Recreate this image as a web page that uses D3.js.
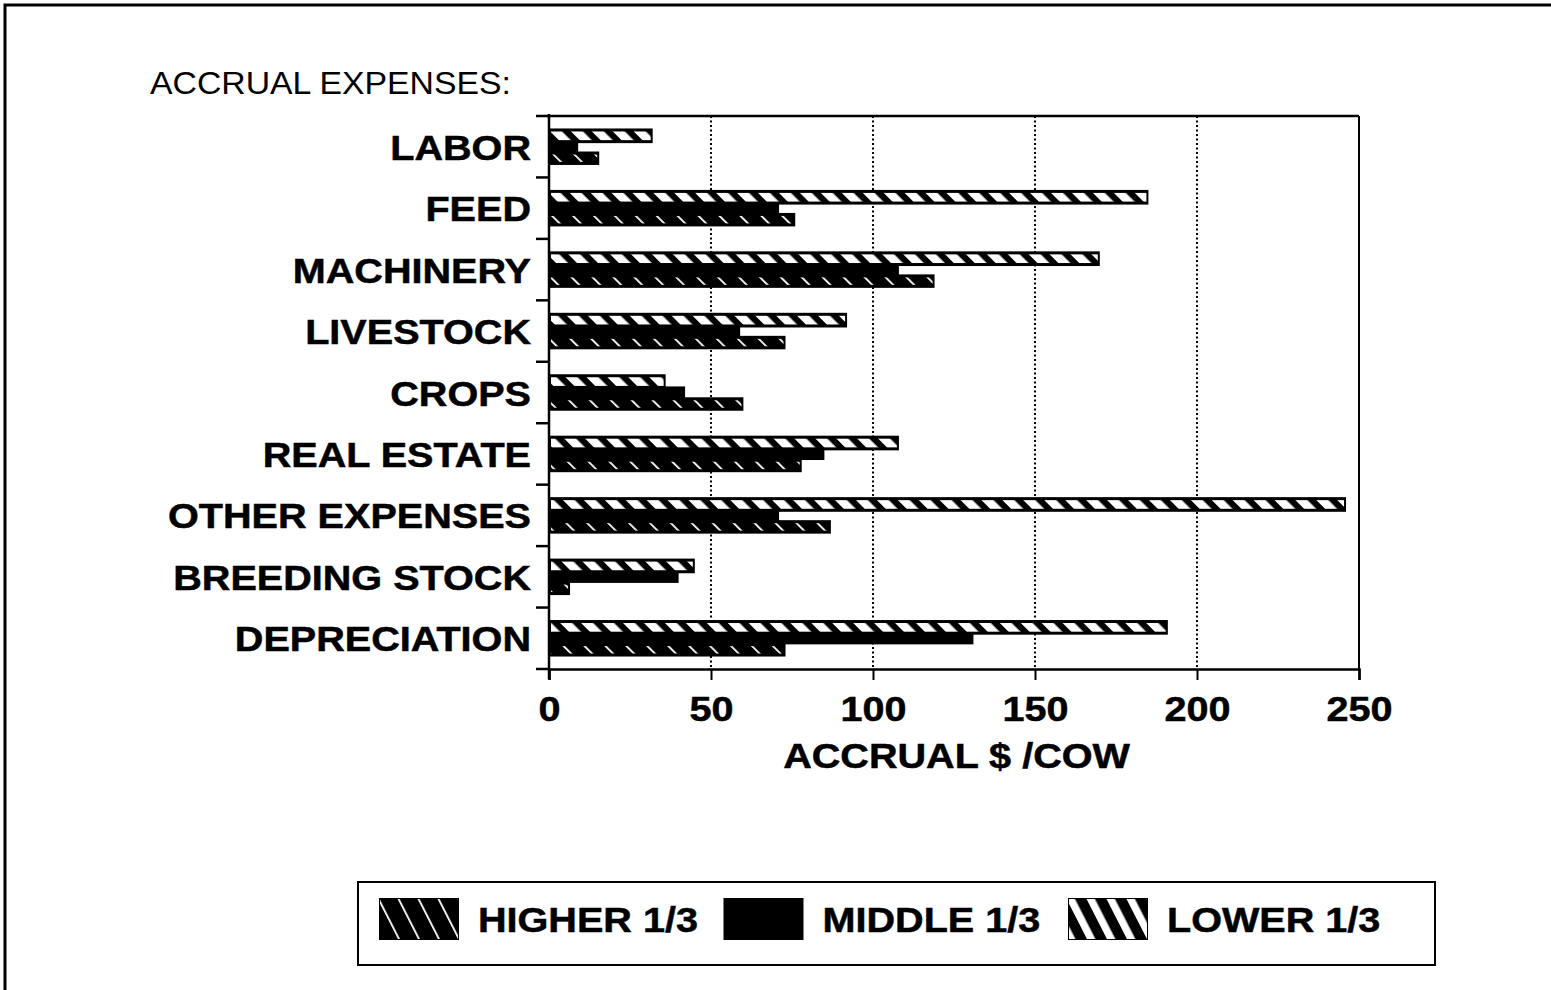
<!DOCTYPE html>
<html>
<head>
<meta charset="utf-8">
<script src="https://cdn.jsdelivr.net/npm/d3@7"></script>
<style>
  html, body { margin: 0; padding: 0; background: #fff; }
  svg { display: block; }
  text { font-family: "Liberation Sans", Arial, sans-serif; fill: #000; }
  .bold { stroke: #000; stroke-width: 0.5px; }
</style>
</head>
<body>
<svg id="chart" width="1551" height="990"></svg>
<script>
// ---- data ----
const categories = ["LABOR", "FEED", "MACHINERY", "LIVESTOCK", "CROPS", "REAL ESTATE", "OTHER EXPENSES", "BREEDING STOCK", "DEPRECIATION"];
const lowerThird  = [32, 185, 170, 92, 36, 108, 246, 45, 191];
const middleThird = [9, 71, 108, 59, 42, 85, 71, 40, 131];
const higherThird = [15.5, 76, 119, 73, 60, 78, 87, 6.5, 73];
const xTicks = [0, 50, 100, 150, 200, 250];
const gridValues = [50, 100, 150, 200];
const legendLabels = ["HIGHER 1/3", "MIDDLE 1/3", "LOWER 1/3"];
const titleText = "ACCRUAL EXPENSES:";
const xTitle = "ACCRUAL $ /COW";

// ---- layout ----
const svg = d3.select("#chart");
const W = 1551, H = 990;
const plot = { left: 549, right: 1359, top: 116, bottom: 669 };
const STRETCH = 1.1;
const FONT = 36;

svg.append("rect").attr("width", W).attr("height", H).attr("fill", "#fff");

// outer frame (top and left edges visible)
svg.append("path").attr("d", `M5,${H} L5,5 L${W},5`).attr("fill", "none").attr("stroke", "#000").attr("stroke-width", 3);

const x = d3.scaleLinear().domain([0, 250]).range([plot.left, plot.right]);
const y = d3.scaleBand().domain(categories).range([plot.top, plot.bottom]).paddingInner(0.406).paddingOuter(0.203);
const sub = d3.scaleBand().domain(["lower", "middle", "higher"]).range([0, y.bandwidth()]);

// ---- patterns ----
const defs = svg.append("defs");
function stripePattern(id, period, stripeW, angle) {
  const p = defs.append("pattern").attr("id", id).attr("patternUnits", "userSpaceOnUse")
    .attr("width", period).attr("height", period).attr("patternTransform", `rotate(${angle})`);
  p.append("rect").attr("width", period).attr("height", period).attr("fill", "#000");
  p.append("rect").attr("x", 0).attr("y", 0).attr("width", stripeW).attr("height", period).attr("fill", "#fff");
}
stripePattern("barLower", 14.8, 8.5, -45);
stripePattern("barHigher", 14.8, 1.8, -45);
stripePattern("legLower", 17.8, 7.5, -27);
stripePattern("legHigher", 17.8, 1.8, -27);

// ---- gridlines ----
svg.append("g").selectAll("line").data(gridValues).join("line")
  .attr("x1", d => x(d)).attr("x2", d => x(d))
  .attr("y1", plot.top).attr("y2", plot.bottom)
  .attr("stroke", "#000").attr("stroke-width", 2).attr("stroke-dasharray", "2,2.5");

// ---- bars ----
const rows = categories.map((c, i) => ({ c, lower: lowerThird[i], middle: middleThird[i], higher: higherThird[i] }));
const bars = svg.append("g");
const inset = 3;

// middle (solid) first
bars.selectAll("rect.mid").data(rows).join("rect").attr("class", "mid")
  .attr("x", x(0)).attr("y", d => y(d.c) + sub("middle"))
  .attr("width", d => x(d.middle) - x(0)).attr("height", sub.bandwidth())
  .attr("fill", "#000");

function patternBar(key, pat, yOff, hgt) {
  const g = bars.append("g");
  g.selectAll("rect.bg").data(rows).join("rect").attr("class", "bg")
    .attr("x", x(0)).attr("y", d => y(d.c) + yOff)
    .attr("width", d => x(d[key]) - x(0)).attr("height", hgt).attr("fill", "#000");
  g.selectAll("rect.pt").data(rows).join("rect").attr("class", "pt")
    .attr("x", x(0) + 2).attr("y", d => y(d.c) + yOff + inset)
    .attr("width", d => Math.max(0, x(d[key]) - x(0) - 4)).attr("height", hgt - 2 * inset)
    .attr("fill", `url(#${pat})`);
}
patternBar("lower", "barLower", sub("lower"), sub.bandwidth() + 2.5);
patternBar("higher", "barHigher", sub("higher") - 1.3, sub.bandwidth() + 1.3);

// ---- frame of plot ----
svg.append("line").attr("x1", plot.left - 2).attr("x2", plot.right).attr("y1", plot.top).attr("y2", plot.top).attr("stroke", "#000").attr("stroke-width", 2.5);
svg.append("line").attr("x1", plot.right).attr("x2", plot.right).attr("y1", plot.top).attr("y2", plot.bottom).attr("stroke", "#000").attr("stroke-width", 2);
svg.append("line").attr("x1", plot.left).attr("x2", plot.left).attr("y1", plot.top - 2).attr("y2", plot.bottom + 10).attr("stroke", "#000").attr("stroke-width", 2.5);

// y boundary ticks
const boundaries = d3.range(categories.length + 1).map(i => plot.top + i * y.step());
svg.append("g").selectAll("line").data(boundaries).join("line")
  .attr("x1", plot.left - 13).attr("x2", plot.left)
  .attr("y1", d => d).attr("y2", d => d)
  .attr("stroke", "#000").attr("stroke-width", 2.5);

// category labels
svg.append("g").selectAll("text").data(categories).join("text")
  .attr("class", "bold")
  .attr("transform", d => `translate(${plot.left - 18},${y(d) + y.bandwidth() / 2 + 13}) scale(${STRETCH},1)`)
  .attr("text-anchor", "end").attr("font-size", FONT).attr("font-weight", "bold")
  .text(d => d);

// ---- x axis ----
const xAxis = svg.append("g").attr("transform", `translate(0,${plot.bottom})`)
  .call(d3.axisBottom(x).tickValues(xTicks).tickSize(11).tickPadding(15).tickFormat(d3.format("d")));
xAxis.select(".domain").attr("stroke", "#000").attr("stroke-width", 2.5);
xAxis.selectAll(".tick line").attr("stroke", "#000").attr("stroke-width", 2);
xAxis.selectAll(".tick text")
  .attr("class", "bold")
  .attr("font-family", "'Liberation Sans', Arial, sans-serif")
  .attr("font-size", FONT).attr("font-weight", "bold").attr("fill", "#000")
  .attr("transform", `scale(${STRETCH},1)`);

svg.append("text")
  .attr("class", "bold")
  .attr("transform", `translate(${(781 + 1132) / 2},768) scale(${STRETCH},1)`)
  .attr("text-anchor", "middle").attr("font-size", FONT).attr("font-weight", "bold")
  .text(xTitle);

// ---- title ----
svg.append("text")
  .attr("transform", `translate(150,94) scale(1.09,1)`)
  .attr("font-size", 31).attr("font-weight", "normal")
  .text(titleText);

// ---- legend ----
const leg = { x: 358, y: 882, w: 1077, h: 83, first: 379, spacing: 344.5, sw: 80, sh: 42, sy: 898, textGap: 99, base: 932 };
svg.append("rect").attr("x", leg.x).attr("y", leg.y).attr("width", leg.w).attr("height", leg.h)
  .attr("fill", "none").attr("stroke", "#000").attr("stroke-width", 2);
const legFills = ["url(#legHigher)", "#000", "url(#legLower)"];
const items = svg.append("g").selectAll("g").data(legendLabels).join("g")
  .attr("transform", (d, i) => `translate(${leg.first + i * leg.spacing},0)`);
items.append("rect").attr("x", 0).attr("y", leg.sy).attr("width", leg.sw).attr("height", leg.sh)
  .attr("fill", "#000");
items.append("rect").attr("x", 1).attr("y", leg.sy + 1).attr("width", leg.sw - 2).attr("height", leg.sh - 2)
  .attr("fill", (d, i) => legFills[i]);
items.append("text")
  .attr("class", "bold")
  .attr("transform", `translate(${leg.textGap},${leg.base}) scale(${STRETCH},1)`)
  .attr("font-size", FONT).attr("font-weight", "bold")
  .text(d => d);
</script>
</body>
</html>
